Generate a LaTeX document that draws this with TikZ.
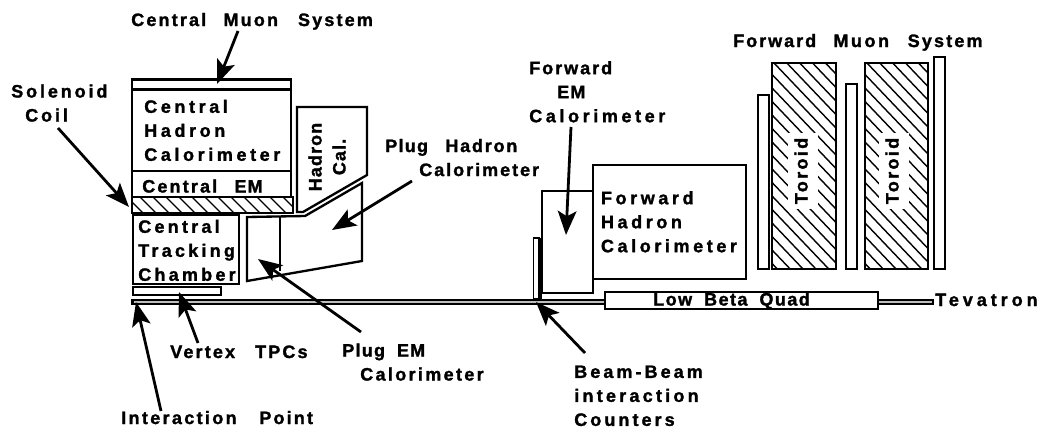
\documentclass[tikz,border=0pt]{standalone}
\usepackage{fontspec}
\setmainfont{Liberation Sans Bold}
\usetikzlibrary{arrows.meta}
\newcommand\st{\rule[-3pt]{0pt}{12.75pt}}
\newcommand\trk[2]{{\addfontfeature{LetterSpace=#1,FakeBold=1.5}#2}}
\newcommand\gp[1]{\hspace*{#1pt}}
\tikzset{
  part/.style={draw=black,line width=1.75pt,line join=miter,fill=white},
  hatchline/.style={line width=1.05pt,black},
  beam/.style={draw=black,line width=1.4pt,fill=black!25},
  lbl/.style={anchor=west,inner sep=0pt,align=left,text=black,font=\fontsize{13.5}{18}\selectfont},
  ptr/.style={line width=2.1pt,-{Stealth[length=18pt,width=14pt,inset=4pt]}},
}
\begin{document}
\begin{tikzpicture}[x=0.75pt,y=-0.75pt]
\useasboundingbox (0,0) rectangle (1042,429);
% beam line
\draw[beam] (132,300) rectangle (605,304);
\draw[beam] (878,300) rectangle (933,304);
\draw[line width=2pt] (133,299) -- (133,305);
% central
\draw[part] (132,79.5) rectangle (291,89.5);
\draw[part] (132,89.5) rectangle (291,171);
\draw[part] (132,171) rectangle (291,197);
% solenoid
\begin{scope}
\clip (132,197) rectangle (293,213);
\foreach \i in {0,...,13} \draw[hatchline] ({125+13*\i},195) -- ({145+13*\i},215);
\end{scope}
\draw[line width=1.75pt] (132,197) rectangle (293,213);
\draw[part] (133,215) rectangle (239,284);
\draw[part] (133,287) rectangle (221,295);
% hadron cal + plug
\draw[part] (297,212) -- (297,107) -- (367,107) -- (367,175) -- (303,212) -- cycle;
\draw[part] (247,217) -- (305,216) -- (362,183) -- (362,261) -- (247,281) -- cycle;
\draw[part,fill=none] (280,216) -- (280,271);
% forward calorimeters
\draw[part] (593,165) rectangle (746,279);
\draw[part] (542,191) rectangle (593,293);
\draw[line width=1.3pt,fill=white] (533.5,238) rectangle (539,299);
\draw[line width=2.4pt] (540.5,238) -- (540.5,299);
\draw[part] (605,292) rectangle (878,309);
% muon bars + toroids
\draw[part] (758,95) rectangle (769,269);
\draw[part] (846,84) rectangle (857,269);
\draw[part] (934,57) rectangle (945,269);
\begin{scope}
\clip (772,63) rectangle (836,269);
\foreach \i in {0,...,21} \draw[hatchline] (702,{-80+13.5*\i}) -- (906,{-80+13.5*\i+214});
\end{scope}
\begin{scope}
\clip (865,63) rectangle (928,269);
\foreach \i in {0,...,21} \draw[hatchline] (795,{-80+13.5*\i}) -- (998,{-80+13.5*\i+213});
\end{scope}
\draw[line width=1.75pt] (772,63) rectangle (836,269);
\draw[line width=1.75pt] (865,63) rectangle (928,269);
% labels
\node[lbl] (cms) at (131,21.5) {\st\trk{12}{Central}\gp{13}\trk{12}{Muon}\gp{15}\trk{12}{System}};
\node[lbl] (fms) at (733,42.5) {\st\trk{11}{Forward}\gp{13}\trk{14}{Muon}\gp{14}\trk{12}{System}};
\node[lbl] (sol) at (11,105) {\st\trk{16}{Solenoid}\\\gp{10.5}\st\trk{16}{Coil}};
\node[lbl] (chc) at (144,132.3) {\st\trk{20}{Central}\\\trk{20}{Hadron}\\\st\trk{20}{Calorimeter}};
\node[lbl] (cem) at (142,188) {\st\trk{12}{Central}\gp{13}\trk{6}{EM}};
\node[lbl] (ctc) at (138,252.3) {\st\trk{18}{Central}\\\trk{18}{Tracking}\\\st\trk{18}{Chamber}};
\node[lbl,anchor=center,rotate=90,align=center] (hcal) at (329,157) {\st\trk{6}{Hadron}\\\st\trk{6}{Cal.}};
\node[lbl,anchor=center,rotate=90,fill=white,inner xsep=3.5pt,inner ysep=5pt] (tor1) at (803,171) {\st\trk{13}{Toroid}};
\node[lbl,anchor=center,rotate=90,fill=white,inner xsep=3.5pt,inner ysep=5pt] (tor2) at (894,171) {\st\trk{13}{Toroid}};
\node[lbl] (fem) at (529,93.7) {\st\trk{11}{Forward}\\\gp{21}\trk{6}{EM}\\\st\trk{20}{Calorimeter}};
\node[lbl] (fhc) at (600.7,223.7) {\st\trk{20}{Forward}\\\trk{20}{Hadron}\\\st\trk{20}{Calorimeter}};
\node[lbl] (phc) at (385,159.5) {\st\trk{7}{Plug}\gp{13}\trk{10}{Hadron}\\\gp{25.5}\st\trk{11}{Calorimeter}};
\node[lbl] (pem) at (342,364) {\st\trk{7}{Plug}\gp{9}\trk{6}{EM}\\\gp{13.5}\st\trk{13}{Calorimeter}};
\node[lbl] (vtx) at (170,353.5) {\st\trk{12}{Vertex}\gp{15}\trk{12}{TPCs}};
\node[lbl] (ipt) at (121,419.5) {\st\trk{13}{Interaction}\gp{17}\trk{12}{Point}};
\node[lbl] (bbc) at (574,397.4) {\st\trk{17}{Beam-Beam}\\\trk{18}{interaction}\\\st\trk{17}{Counters}};
\node[lbl] (lbq) at (653,301) {\st\trk{8}{Low}\gp{9}\trk{8}{Beta}\gp{9}\trk{8}{Quad}};
\node[lbl] (tev) at (935,301.5) {\st\trk{22}{Tevatron}};
% arrows
\coordinate (a1) at (238,31);   \coordinate (t1) at (217,84);
\coordinate (a2) at (58,128);   \coordinate (t2) at (129,207);
\coordinate (a3) at (412,181);  \coordinate (t3) at (332,230);
\coordinate (a4) at (571,127);  \coordinate (t4) at (566,235);
\coordinate (a5) at (361,332);  \coordinate (t5) at (258,259);
\coordinate (a6) at (198,343);  \coordinate (t6) at (179,292);
\coordinate (a7) at (161,411);  \coordinate (t7) at (136,302);
\coordinate (a8) at (585,353);  \coordinate (t8) at (536,302);
\foreach \k in {1,...,8} \draw[ptr] (a\k) -- (t\k);
\end{tikzpicture}
\end{document}
